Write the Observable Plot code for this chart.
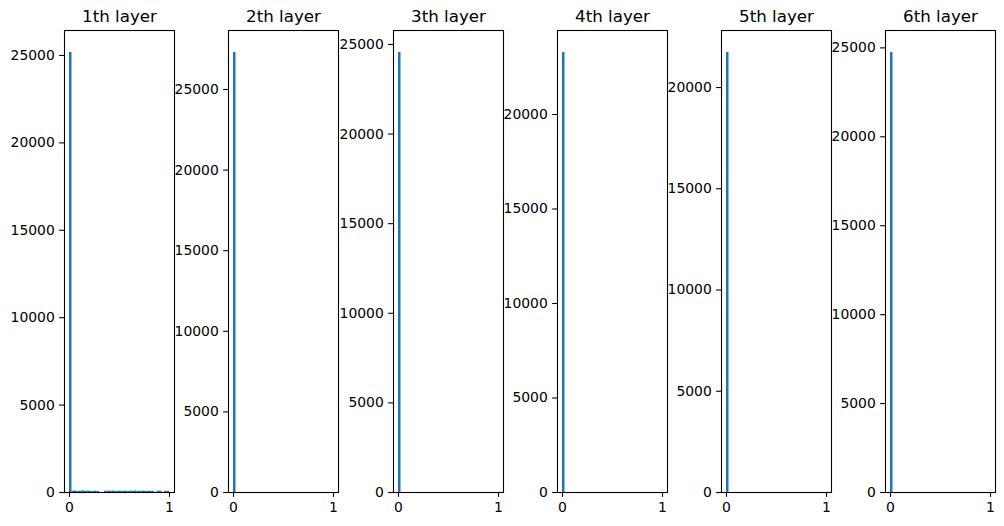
<!DOCTYPE html>
<html>
<head>
<meta charset="utf-8">
<script src="https://cdn.jsdelivr.net/npm/d3@7"></script>
<script src="https://cdn.jsdelivr.net/npm/@observablehq/plot@0.6"></script>
<style>
  html, body { margin: 0; padding: 0; background: #fff; }
  #chart { position: relative; width: 1004px; height: 526px; overflow: hidden; }
  #chart svg { position: absolute; top: 0; overflow: visible; }
</style>
</head>
<body>
<div id="chart"></div>
<script>
// ---- data ----
const titles = ["1th layer", "2th layer", "3th layer", "4th layer", "5th layer", "6th layer"];
const binCount = 40;          // histogram bins over [0, 1]
const binRange = [0, 1];
const layer1 = [25170, 70, 85, 60, 75, 90, 65, 80, 70, 55, 75, 60, 0, 0, 65, 80, 70, 85, 60, 75, 70, 65, 80, 60, 75, 70, 85, 65, 70, 80, 60, 75, 70, 65, 0, 70, 75, 0, 65, 70];
const layer2 = [27295, 0, 0, 0, 0, 0, 0, 0, 0, 0, 0, 0, 0, 0, 0, 0, 0, 0, 0, 0, 0, 0, 0, 0, 0, 0, 0, 0, 0, 0, 0, 0, 0, 0, 0, 0, 0, 0, 0, 0];
const layer3 = [24550, 0, 0, 0, 0, 0, 0, 0, 0, 0, 0, 0, 0, 0, 0, 0, 0, 0, 0, 0, 0, 0, 0, 0, 0, 0, 0, 0, 0, 0, 0, 0, 0, 0, 0, 0, 0, 0, 0, 0];
const layer4 = [23280, 0, 0, 0, 0, 0, 0, 0, 0, 0, 0, 0, 0, 0, 0, 0, 0, 0, 0, 0, 0, 0, 0, 0, 0, 0, 0, 0, 0, 0, 0, 0, 0, 0, 0, 0, 0, 0, 0, 0];
const layer5 = [21730, 0, 0, 0, 0, 0, 0, 0, 0, 0, 0, 0, 0, 0, 0, 0, 0, 0, 0, 0, 0, 0, 0, 0, 0, 0, 0, 0, 0, 0, 0, 0, 0, 0, 0, 0, 0, 0, 0, 0];
const layer6 = [24740, 0, 0, 0, 0, 0, 0, 0, 0, 0, 0, 0, 0, 0, 0, 0, 0, 0, 0, 0, 0, 0, 0, 0, 0, 0, 0, 0, 0, 0, 0, 0, 0, 0, 0, 0, 0, 0, 0, 0];
const yTicks1 = [0, 5000, 10000, 15000, 20000, 25000];
const yTicks2 = [0, 5000, 10000, 15000, 20000, 25000];
const yTicks3 = [0, 5000, 10000, 15000, 20000, 25000];
const yTicks4 = [0, 5000, 10000, 15000, 20000];
const yTicks5 = [0, 5000, 10000, 15000, 20000];
const yTicks6 = [0, 5000, 10000, 15000, 20000, 25000];
const xTicks = [0, 1];

const layers = [layer1, layer2, layer3, layer4, layer5, layer6];
const yTicksAll = [yTicks1, yTicks2, yTicks3, yTicks4, yTicks5, yTicks6];

// ---- layout ----
const firstLeft = 64, panelStep = 164.25, innerW = 110;
const mLeft = 60, mRight = 6, mTop = 30, mBottom = 34, H = 526;
const tick = 4.86;
const blue = "#1f77b4";
const tickFont = 13.9;

const chart = document.getElementById("chart");
layers.forEach((counts, k) => {
  const binW = (binRange[1] - binRange[0]) / binCount;
  const bars = counts.map((c, i) => ({x1: binRange[0] + i * binW, x2: binRange[0] + (i + 1) * binW, y: c})).filter(d => d.y > 0);
  const ymax = d3.max(counts) * 1.05;
  const svg = Plot.plot({
    width: mLeft + innerW + mRight,
    height: H,
    marginLeft: mLeft, marginRight: mRight, marginTop: mTop, marginBottom: mBottom,
    style: {fontFamily: "DejaVu Sans", fontSize: tickFont + "px", color: "#000", background: "transparent", overflow: "visible"},
    x: {domain: [-0.05, 1.05]},
    y: {domain: [0, ymax]},
    marks: [
      Plot.rectY(bars, {x1: "x1", x2: "x2", y: "y", fill: blue, inset: 0}),
      Plot.frame({stroke: "#000", strokeWidth: 1.1}),
      Plot.axisY(yTicksAll[k], {tickSize: tick, tickPadding: tick, strokeWidth: 1.1, fontSize: tickFont, label: null, tickFormat: d => String(d)}),
      Plot.axisX(xTicks, {tickSize: tick, tickPadding: tick, strokeWidth: 1.1, fontSize: tickFont, label: null, tickFormat: d => String(d)}),
      Plot.text([titles[k]], {frameAnchor: "top", dy: -9, lineAnchor: "bottom", fontSize: 16.7, fill: "#000"})
    ]
  });
  svg.style.left = (firstLeft + k * panelStep - mLeft) + "px";
  chart.appendChild(svg);
});
</script>
</body>
</html>
